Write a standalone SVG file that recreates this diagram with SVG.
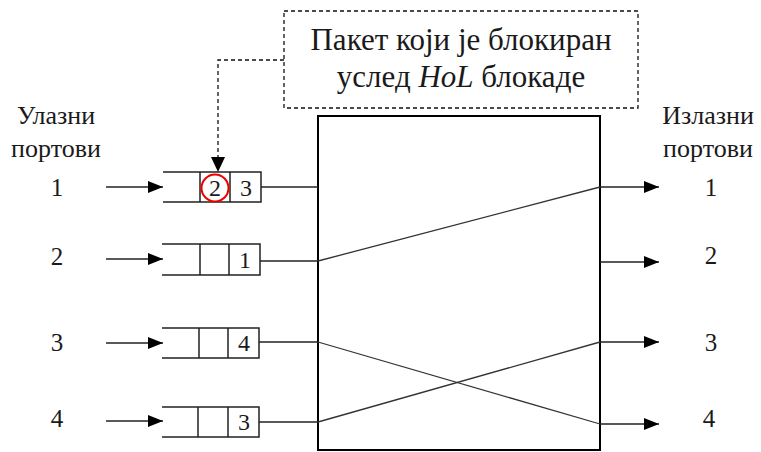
<svg xmlns="http://www.w3.org/2000/svg" width="761" height="452" viewBox="0 0 761 452">
  <style>
    text { font-family: "Liberation Serif", "DejaVu Serif", serif; fill: #1a1a1a; }
    .lbl { font-size: 26px; text-anchor: middle; }
    .num { font-size: 25px; text-anchor: middle; }
    .cell { font-size: 24px; text-anchor: middle; }
    .note { font-size: 31px; text-anchor: middle; }
    .ln { stroke: #222; stroke-width: 1.5; fill: none; }
    .thin { stroke: #333; stroke-width: 1.3; fill: none; }
    .dash { stroke: #111; stroke-width: 1.3; fill: none; stroke-dasharray: 4 3; }
  </style>
  <defs>
    <marker id="arr" markerWidth="15" markerHeight="12" refX="15" refY="6" orient="auto" markerUnits="userSpaceOnUse">
      <path d="M0,0 L15,6 L0,12 Z" fill="#000"/>
    </marker>
  </defs>

  <rect width="761" height="452" fill="#fff"/>

  <!-- annotation box -->
  <g id="note">
    <rect x="284" y="11" width="354" height="97" class="dash"/>
    <text class="note" x="461" y="50">Пакет који је блокиран</text>
    <text class="note" x="461" y="87">услед <tspan font-style="italic">HoL</tspan> блокаде</text>
  </g>

  <!-- column headers -->
  <g id="inputs-label">
    <text class="lbl" x="56" y="124">Улазни</text>
    <text class="lbl" x="56" y="157">портови</text>
  </g>
  <g id="outputs-label">
    <text class="lbl" x="708" y="124">Излазни</text>
    <text class="lbl" x="708" y="157">портови</text>
  </g>

  <!-- port numbers -->
  <g id="in-ports">
    <text class="num" x="57" y="196">1</text>
    <text class="num" x="57" y="265">2</text>
    <text class="num" x="57" y="351">3</text>
    <text class="num" x="57" y="427">4</text>
  </g>
  <g id="out-ports">
    <text class="num" x="711" y="196">1</text>
    <text class="num" x="711" y="264">2</text>
    <text class="num" x="711" y="351">3</text>
    <text class="num" x="709" y="427">4</text>
  </g>

  <!-- switch fabric -->
  <g id="switch">
    <rect x="318" y="116" width="282" height="334" fill="none" stroke="#000" stroke-width="2"/>
  </g>

  <!-- input queues -->
  <g id="queue1">
    <path class="ln" d="M163,172 H261 V202 H163 M200,172 V202 M230,172 V202"/>
    <circle cx="215" cy="188" r="13.5" fill="none" stroke="#e00" stroke-width="2"/>
    <text class="cell" x="215" y="196">2</text>
    <text class="cell" x="246" y="196">3</text>
  </g>
  <g id="queue2">
    <path class="ln" d="M162,244 H260 V275 H162 M200,244 V275 M229,244 V275"/>
    <text class="cell" x="245" y="268">1</text>
  </g>
  <g id="queue3">
    <path class="ln" d="M162,328 H259 V358 H162 M199,328 V358 M228,328 V358"/>
    <text class="cell" x="244" y="351">4</text>
  </g>
  <g id="queue4">
    <path class="ln" d="M162,407 H259 V437 H162 M198,407 V437 M228,407 V437"/>
    <text class="cell" x="244" y="430">3</text>
  </g>

  <!-- connectors -->
  <g id="connectors">
    <!-- incoming arrows -->
    <line class="ln" x1="106" y1="187" x2="163" y2="187" marker-end="url(#arr)"/>
    <line class="ln" x1="106" y1="259" x2="163" y2="259" marker-end="url(#arr)"/>
    <line class="ln" x1="106" y1="343" x2="163" y2="343" marker-end="url(#arr)"/>
    <line class="ln" x1="106" y1="421" x2="163" y2="421" marker-end="url(#arr)"/>
    <!-- queue heads to fabric -->
    <line class="ln" x1="261" y1="187" x2="318" y2="187"/>
    <line class="ln" x1="260" y1="261" x2="318" y2="261"/>
    <line class="ln" x1="259" y1="342" x2="318" y2="342"/>
    <line class="ln" x1="259" y1="422" x2="318" y2="422"/>
    <!-- paths through fabric -->
    <line class="thin" x1="318" y1="261" x2="600" y2="187"/>
    <line class="thin" x1="318" y1="342" x2="600" y2="424"/>
    <line class="thin" x1="318" y1="422" x2="600" y2="342"/>
    <!-- outgoing arrows -->
    <line class="ln" x1="600" y1="187" x2="659" y2="187" marker-end="url(#arr)"/>
    <line class="ln" x1="600" y1="262" x2="659" y2="262" marker-end="url(#arr)"/>
    <line class="ln" x1="600" y1="342" x2="659" y2="342" marker-end="url(#arr)"/>
    <line class="ln" x1="600" y1="424" x2="659" y2="424" marker-end="url(#arr)"/>
    <!-- note leader -->
    <path class="dash" d="M284,60 H218 V158"/>
    <path d="M211,157 L225,157 L218,172 Z" fill="#000"/>
  </g>
</svg>
